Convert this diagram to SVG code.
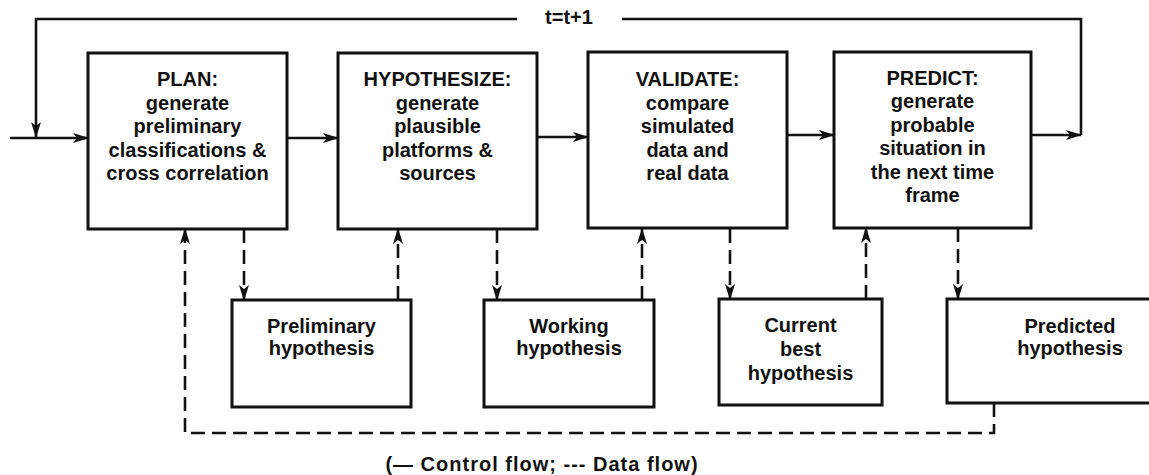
<svg xmlns="http://www.w3.org/2000/svg" width="1149" height="475" viewBox="0 0 1149 475">
<style>
.box{fill:#fff;stroke:#111;stroke-width:3}
.t{font-family:"Liberation Sans",Arial,sans-serif;font-weight:bold;font-size:20px;fill:#111;text-anchor:middle}
.c{fill:none;stroke:#111;stroke-width:2.6}
.d{fill:none;stroke:#111;stroke-width:2.6;stroke-dasharray:14 7}
</style>
<defs>
<marker id="ah" viewBox="0 0 16 10" refX="15" refY="5" markerWidth="16" markerHeight="10" markerUnits="userSpaceOnUse" orient="auto">
<path d="M0,0 L16,5 L0,10 L4,5 Z" fill="#111"/>
</marker>
</defs>
<rect width="1149" height="475" fill="#fff"/>
<g id="connectors">
<path class="c" d="M517,19 H36 V137" marker-end="url(#ah)"/>
<path class="c" d="M622,19 H1081 V135"/>
<path class="c" d="M10,138 H88" marker-end="url(#ah)"/>
<path class="c" d="M287,138 H338" marker-end="url(#ah)"/>
<path class="c" d="M537,137 H588" marker-end="url(#ah)"/>
<path class="c" d="M787,135 H834" marker-end="url(#ah)"/>
<path class="c" d="M1031,135 H1081" marker-end="url(#ah)"/>
<path class="d" d="M244,229 V300" marker-end="url(#ah)"/>
<path class="d" d="M398,300 V229" marker-end="url(#ah)"/>
<path class="d" d="M497,229 V300" marker-end="url(#ah)"/>
<path class="d" d="M642,300 V229" marker-end="url(#ah)"/>
<path class="d" d="M730,229 V299" marker-end="url(#ah)"/>
<path class="d" d="M866,299 V228" marker-end="url(#ah)"/>
<path class="d" d="M958,228 V299" marker-end="url(#ah)"/>
<path class="d" d="M994,403 V433 H185 V229" marker-end="url(#ah)"/>
</g>
<text class="t" x="569" y="24">t=t+1</text>
<g id="plan">
<rect class="box" x="88" y="53" width="199" height="176"/>
<text class="t" x="187.5" y="86">PLAN:</text>
<text class="t" x="187.5" y="109.5">generate</text>
<text class="t" x="187.5" y="133">preliminary</text>
<text class="t" x="187.5" y="156.5">classifications &amp;</text>
<text class="t" x="187.5" y="180">cross correlation</text>
</g>
<g id="hypothesize">
<rect class="box" x="338" y="53" width="199" height="176"/>
<text class="t" x="437.5" y="86">HYPOTHESIZE:</text>
<text class="t" x="437.5" y="109.5">generate</text>
<text class="t" x="437.5" y="133">plausible</text>
<text class="t" x="437.5" y="156.5">platforms &amp;</text>
<text class="t" x="437.5" y="180">sources</text>
</g>
<g id="validate">
<rect class="box" x="588" y="52" width="199" height="176"/>
<text class="t" x="687.5" y="86">VALIDATE:</text>
<text class="t" x="687.5" y="109.5">compare</text>
<text class="t" x="687.5" y="133">simulated</text>
<text class="t" x="687.5" y="156.5">data and</text>
<text class="t" x="687.5" y="180">real data</text>
</g>
<g id="predict">
<rect class="box" x="834" y="52" width="197" height="176"/>
<text class="t" x="932.5" y="85">PREDICT:</text>
<text class="t" x="932.5" y="108">generate</text>
<text class="t" x="932.5" y="131.5">probable</text>
<text class="t" x="932.5" y="155">situation in</text>
<text class="t" x="932.5" y="178.5">the next time</text>
<text class="t" x="932.5" y="202">frame</text>
</g>
<g id="preliminary">
<rect class="box" x="232" y="300" width="179" height="107"/>
<text class="t" x="321.5" y="333">Preliminary</text>
<text class="t" x="321.5" y="355">hypothesis</text>
</g>
<g id="working">
<rect class="box" x="484" y="300" width="170" height="107"/>
<text class="t" x="569" y="333">Working</text>
<text class="t" x="569" y="355">hypothesis</text>
</g>
<g id="current">
<rect class="box" x="719" y="299" width="163" height="106"/>
<text class="t" x="800.5" y="332">Current</text>
<text class="t" x="800.5" y="356">best</text>
<text class="t" x="800.5" y="380">hypothesis</text>
</g>
<g id="predicted">
<rect class="box" x="947" y="299" width="210" height="104"/>
<text class="t" x="1070" y="333">Predicted</text>
<text class="t" x="1070" y="355">hypothesis</text>
</g>
<text class="t" x="542" y="471" style="letter-spacing:1px">(— Control flow; --- Data flow)</text>
</svg>
